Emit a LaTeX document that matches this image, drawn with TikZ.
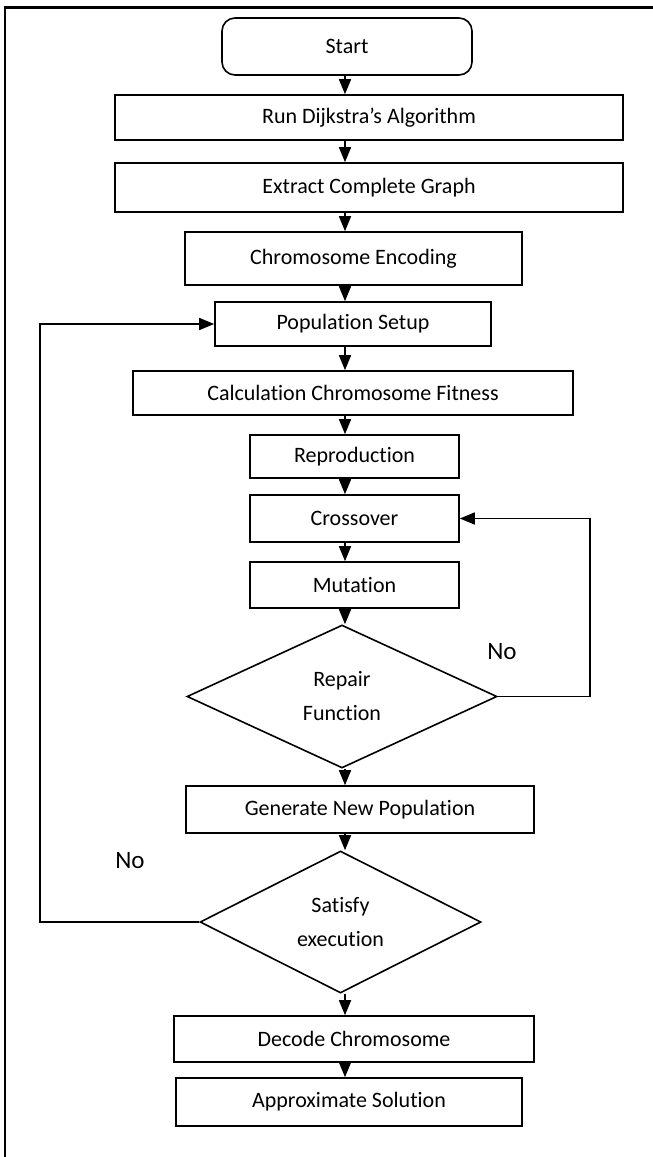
\documentclass[tikz,border=0pt]{standalone}
\usepackage{fontspec}
\setmainfont[RawFeature=-liga]{Carlito}
\usepackage{tikz}
\usetikzlibrary{positioning,shapes,arrows.meta}

\begin{document}
\begin{tikzpicture}[x=1pt,y=-1pt,
  box/.style={draw,line width=1.6pt,inner sep=0pt,font=\fontsize{22}{26}\selectfont},
  decide/.style={draw,diamond,line width=1.6pt,inner sep=0pt,align=center,font=\fontsize{22}{34}\selectfont},
  arr/.style={line width=1.6pt,-{Triangle[length=15pt,width=12pt]}},
  lbl/.style={font=\fontsize{25}{29}\selectfont}]
\useasboundingbox (0,0) rectangle (653,1157);
% frame
\draw[line width=2.4pt] (5,1157) -- (5,7.5) -- (653,7.5);
% spine and loop lines
\coordinate (spine) at (345,0);
\coordinate (loopx) at (40,0);
\coordinate (fbx) at (590,0);
% steps
\node[box,rounded corners=13pt,minimum width=250pt,minimum height=57pt] (start) at (347,46.5) {Start};
\node[box,minimum width=508pt,minimum height=45pt] (run) at (369,117.5) {Run Dijkstra’s Algorithm};
\node[box,minimum width=508pt,minimum height=49pt] (ext) at (369,187.5) {Extract Complete Graph};
\node[box,minimum width=337pt,minimum height=53pt] (enc) at (353.5,258.5) {Chromosome Encoding};
\node[box,minimum width=276pt,minimum height=44pt] (pop) at (353,324) {Population Setup};
\node[box,minimum width=440pt,minimum height=44pt] (calc) at (353,393) {Calculation Chromosome Fitness};
\node[box,minimum width=209pt,minimum height=43pt] (repro) at (354.5,456.5) {Reproduction};
\node[box,minimum width=209pt,minimum height=47pt] (cross) at (354.5,518.5) {Crossover};
\node[box,minimum width=209pt,minimum height=46pt] (mut) at (354.5,585) {Mutation};
\node[decide,minimum width=310pt,minimum height=143pt] (repair) at (342,696.5) {Repair\\Function};
\node[box,minimum width=348pt,minimum height=47pt] (gen) at (360,809.5) {Generate New Population};
\node[decide,minimum width=281pt,minimum height=142pt] (sat) at (340.5,922) {Satisfy\\execution};
\node[box,minimum width=360pt,minimum height=46pt] (dec) at (354,1039) {Decode Chromosome};
\node[box,minimum width=346pt,minimum height=48pt] (appr) at (349,1102) {Approximate Solution};
\node[lbl] (no1) at (502,652) {No};
\node[lbl] (no2) at (130,861) {No};
% flow
\draw[arr] (start.south -| spine) -- (run.north -| spine);
\draw[arr] (run.south -| spine) -- (ext.north -| spine);
\draw[arr] (ext.south -| spine) -- (enc.north -| spine);
\draw[arr] (enc.south -| spine) -- (pop.north -| spine);
\draw[arr] (pop.south -| spine) -- (calc.north -| spine);
\draw[arr] (calc.south -| spine) -- (repro.north -| spine);
\draw[arr] (repro.south -| spine) -- (cross.north -| spine);
\draw[arr] (cross.south -| spine) -- (mut.north -| spine);
\draw[arr] (mut.south -| spine) -- (repair.north -| spine);
\draw[arr] (repair.south -| spine) -- (gen.north -| spine);
\draw[arr] (gen.south -| spine) -- (sat.north -| spine);
\draw[arr] (sat.south -| spine) -- (dec.north -| spine);
\draw[arr] (dec.south -| spine) -- (appr.north -| spine);
% loops back
\draw[arr] (repair.east) -- (repair.east -| fbx) |- (cross.east);
\draw[arr] (sat.west) -- (sat.west -| loopx) |- (pop.west);
\end{tikzpicture}
\end{document}
